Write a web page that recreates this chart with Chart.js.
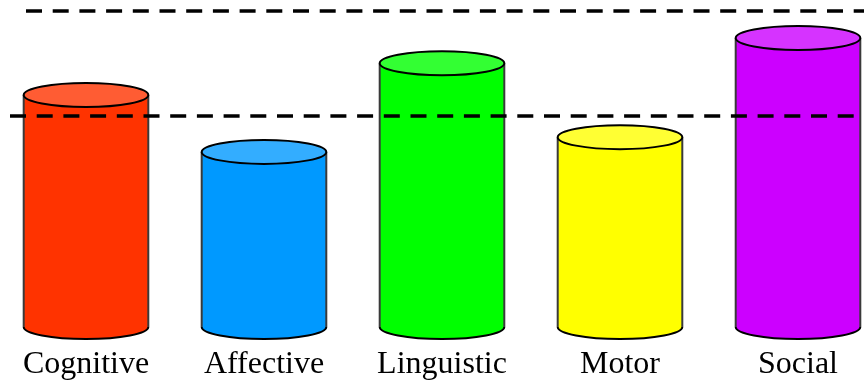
<!DOCTYPE html>
<html>
<head>
<meta charset="utf-8">
<title>Development domains</title>
<script src="https://cdn.jsdelivr.net/npm/chart.js@4/dist/chart.umd.min.js"></script>
<style>
  html, body { margin: 0; padding: 0; background: #ffffff; }
  #wrap { width: 864px; height: 382px; position: relative; }
</style>
</head>
<body>
<div id="wrap"><canvas id="chart"></canvas></div>
<script>
// Domain scores
const domains = ['Cognitive', 'Affective', 'Linguistic', 'Motor', 'Social'];
const scores = [110, 83, 125, 90, 137];
const bodyColors = ['#FF3300', '#0099FF', '#00FF00', '#FFFF00', '#CC00FF'];
// Reference levels shown as dashed lines
const referenceLevels = [150, 100];

function lighten(hex, amt) {
  const n = parseInt(hex.slice(1), 16);
  const r = (n >> 16) & 255, g = (n >> 8) & 255, b = n & 255;
  const mix = c => Math.round(c + (255 - c) * amt);
  return `rgb(${mix(r)},${mix(g)},${mix(b)})`;
}

// Draws each bar as an upright cylinder
const cylinderPlugin = {
  id: 'cylinders',
  beforeDatasetDraw(chart, args) {
    const meta = args.meta;
    const ctx = chart.ctx;
    const ry = 12;
    meta.data.forEach((bar, i) => {
      const { x, y, base, width } = bar.getProps(['x', 'y', 'base', 'width'], true);
      const rx = width / 2;
      const color = bodyColors[i];
      ctx.save();
      // body
      ctx.beginPath();
      ctx.moveTo(x - rx, y);
      ctx.lineTo(x - rx, base);
      ctx.ellipse(x, base, rx, ry, 0, Math.PI, 0, true);
      ctx.lineTo(x + rx, y);
      ctx.closePath();
      ctx.fillStyle = color;
      ctx.fill();
      // sides
      ctx.lineWidth = 2;
      ctx.strokeStyle = '#3a3a3a';
      ctx.beginPath();
      ctx.moveTo(x - rx, y);
      ctx.lineTo(x - rx, base);
      ctx.moveTo(x + rx, y);
      ctx.lineTo(x + rx, base);
      ctx.stroke();
      // bottom rim
      ctx.strokeStyle = '#000';
      ctx.beginPath();
      ctx.ellipse(x, base, rx, ry, 0, Math.PI, 0, true);
      ctx.stroke();
      // top face
      ctx.beginPath();
      ctx.ellipse(x, y, rx, ry, 0, 0, Math.PI * 2);
      ctx.fillStyle = lighten(color, 0.2);
      ctx.fill();
      ctx.stroke();
      ctx.restore();
    });
    return false;
  }
};

// Dashed horizontal reference lines
const referencePlugin = {
  id: 'referenceLines',
  afterDraw(chart, args, opts) {
    const ctx = chart.ctx;
    const yScale = chart.scales.y;
    ctx.save();
    ctx.strokeStyle = '#000';
    ctx.lineWidth = 3.5;
    ctx.setLineDash([16, 10.7]);
    referenceLevels.forEach((v, i) => {
      const py = Math.round(yScale.getPixelForValue(v));
      ctx.beginPath();
      ctx.moveTo(opts.starts[i], py);
      ctx.lineTo(opts.ends[i], py);
      ctx.stroke();
    });
    ctx.restore();
  }
};

new Chart(document.getElementById('chart'), {
  type: 'bar',
  data: {
    labels: domains,
    datasets: [{
      data: scores,
      backgroundColor: bodyColors,
      categoryPercentage: 1,
      barPercentage: 0.7
    }]
  },
  options: {
    responsive: true,
    maintainAspectRatio: false,
    animation: false,
    layout: { padding: { left: 86, right: 66, top: 0, bottom: 0 } },
    plugins: {
      legend: { display: false },
      tooltip: { enabled: false },
      referenceLines: { starts: [26, 10], ends: [864, 858] }
    },
    scales: {
      x: {
        offset: false,
        grid: { display: false, drawTicks: false },
        border: { display: false },
        ticks: {
          color: '#000',
          padding: 18,
          maxRotation: 0,
          autoSkip: false,
          font: { family: '"Liberation Serif", "Times New Roman", serif', size: 32 }
        },
        afterFit(scale) { scale.height = 55; }
      },
      y: {
        display: false,
        min: 0,
        max: 155
      }
    }
  },
  plugins: [cylinderPlugin, referencePlugin]
});
</script>
</body>
</html>
